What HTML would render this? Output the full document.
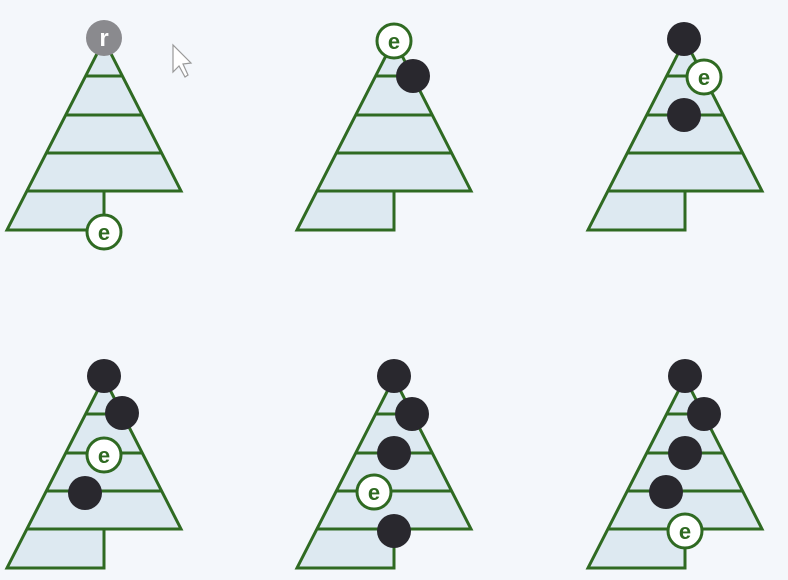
<!DOCTYPE html>
<html><head><meta charset="utf-8"><style>
html,body{margin:0;padding:0;background:#f4f7fb;}
svg{display:block;}
text{font-family:"Liberation Sans",sans-serif;font-weight:bold;}
</style></head><body>
<svg id="s" width="788" height="580" viewBox="0 0 788 580">
<rect x="0" y="0" width="788" height="580" fill="#f4f7fb"/>
<g id="trees"></g>
<path d="M173,45 L173,72 L179,66 L185,77 L188,75 L183,64 L191,63 Z" fill="#fff" stroke="#999" stroke-width="1.2"/>
</svg>
<script>
const offsetsX=[0,290,581];
const offsetsY=[0,338];
// per tree: nodes [dx, dy, type]
const trees=[
 [[104,38,'r'],[104,232,'e']],
 [[394,41,'e'],[413,76,'b']],
 [[684,39,'b'],[704,77,'e'],[684,115,'b']],
 [[104,376,'b'],[122,413,'b'],[104,455,'e'],[85,493,'b']],
 [[394,376,'b'],[412,414,'b'],[394,453,'b'],[374,492,'e'],[394,531,'b']],
 [[685,376,'b'],[704,414,'b'],[685,453,'b'],[666,492,'b'],[685,531,'e']]
];
const NS='http://www.w3.org/2000/svg';
const G=document.getElementById('trees');
const green='#2f6a22';
function mk(tag,attrs,parent){const e=document.createElementNS(NS,tag);for(const k in attrs)e.setAttribute(k,attrs[k]);parent.appendChild(e);return e;}
const tiers=[76,115,153,191];
for(let i=0;i<6;i++){
 const ox=offsetsX[i%3], oy=offsetsY[Math.floor(i/3)];
 const g=mk('g',{transform:`translate(${ox},${oy})`},G);
 
 
 const shape=mk('path',{d:'M104,40 L181,191 L104,191 L104,230 L7,230 Z',fill:'#dde9f1',stroke:green,'stroke-width':3,'stroke-linejoin':'miter'},g);
 
 
 for(const y of tiers){
  const hw=(y-40)*0.51;
  const l=mk('line',{x1:104-hw,y1:y,x2:104+hw,y2:y,stroke:green,'stroke-width':3},g);
  
  
 }
 for(const n of trees[i]){
  const cx=n[0]-ox, cy=n[1]-oy;
  const ng=mk('g',{},g);
  if(n[2]==='b'){
   mk('circle',{cx:cx,cy:cy,r:17,fill:'#29282e'},ng);
   
   
  }else if(n[2]==='e'){
   mk('circle',{cx:cx,cy:cy,r:17,fill:'#fff',stroke:green,'stroke-width':3},ng);
   const t=mk('text',{x:cx,y:cy+8,'text-anchor':'middle','font-size':22,fill:green},ng);
   t.textContent='e';
   
   
  }else{
   mk('circle',{cx:cx,cy:cy,r:18,fill:'#8a8a8e'},ng);
   const t=mk('text',{x:cx,y:cy+8,'text-anchor':'middle','font-size':24,fill:'#fff'},ng);
   t.textContent='r';
   
   
  }
 }
}
</script>
</body></html>
